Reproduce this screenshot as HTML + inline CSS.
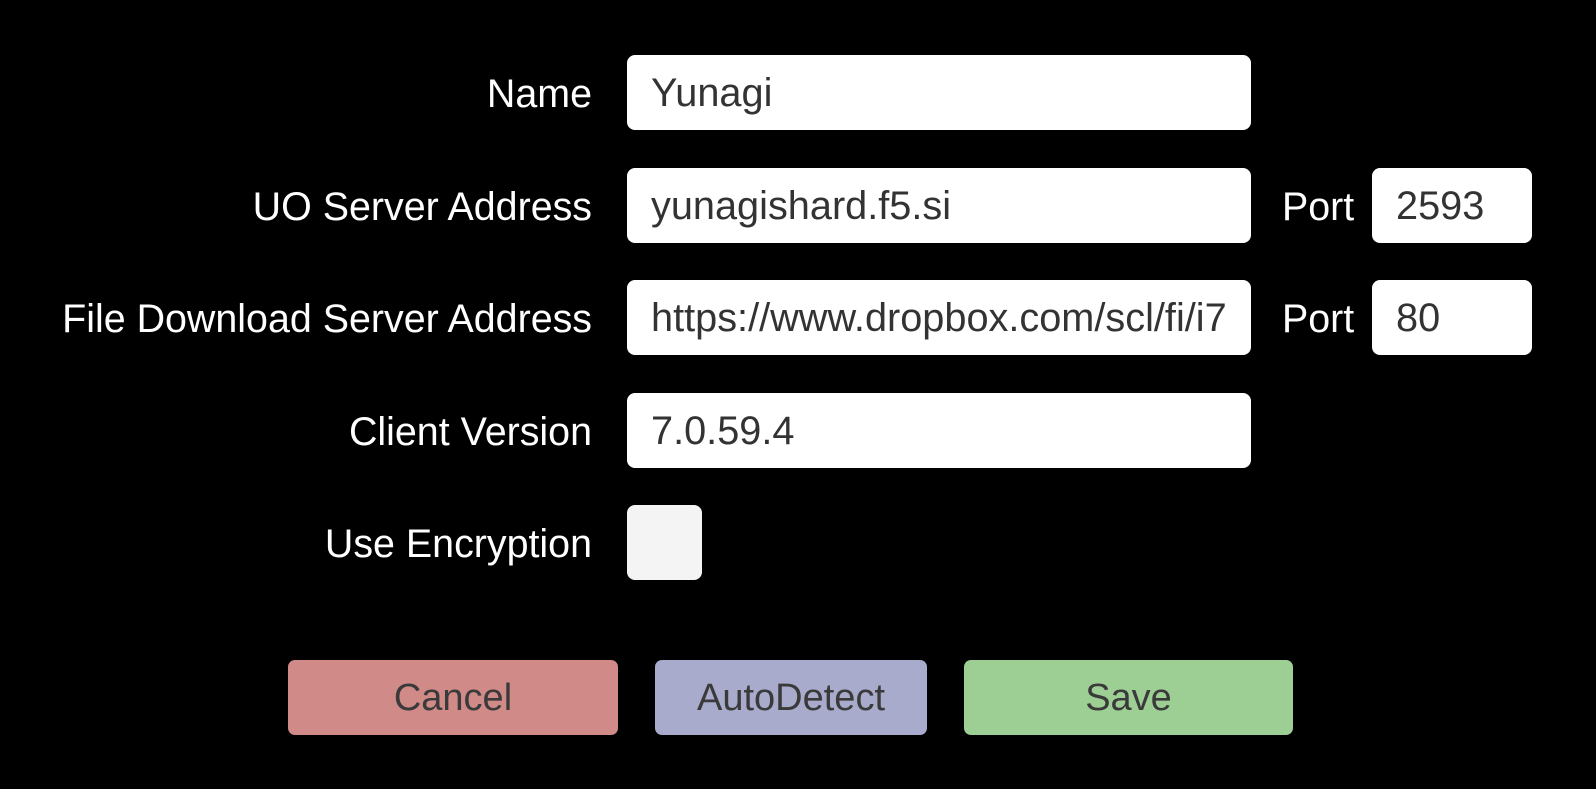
<!DOCTYPE html>
<html><head><style>
body{margin:0;width:1596px;height:789px;background:#000;position:relative;overflow:hidden;font-family:"Liberation Sans",sans-serif;}
.l{position:absolute;right:1004px;color:#fff;font-size:39.4px;line-height:78px;white-space:nowrap}
.b{position:absolute;background:#fff;border-radius:8px;color:#333;font-size:39.7px;box-sizing:border-box;padding-left:24px;white-space:nowrap;overflow:hidden}
.p{position:absolute;left:1282px;color:#fff;font-size:39.4px;line-height:78px}
.btn{position:absolute;top:660px;height:75px;line-height:77px;border-radius:7px;text-align:center;color:#3a3a3a;font-size:38px}
</style></head><body>
<div class="l" style="top:55px">Name</div>
<div class="b" style="left:627px;top:55px;width:624px;height:75px;line-height:77px">Yunagi</div>
<div class="l" style="top:168px">UO Server Address</div>
<div class="b" style="left:627px;top:168px;width:624px;height:75px;line-height:77px">yunagishard.f5.si</div>
<div class="p" style="top:168px">Port</div>
<div class="b" style="left:1372px;top:168px;width:160px;height:75px;line-height:77px">2593</div>
<div class="l" style="top:280px">File Download Server Address</div>
<div class="b" style="left:627px;top:280px;width:624px;height:75px;line-height:77px">https://www.dropbox.com/scl/fi/i7</div>
<div class="p" style="top:280px">Port</div>
<div class="b" style="left:1372px;top:280px;width:160px;height:75px;line-height:77px">80</div>
<div class="l" style="top:393px">Client Version</div>
<div class="b" style="left:627px;top:393px;width:624px;height:75px;line-height:77px">7.0.59.4</div>
<div class="l" style="top:505px">Use Encryption</div>
<div class="b" style="left:627px;top:505px;width:75px;height:75px;background:#f4f4f4"></div>
<div class="btn" style="left:288px;width:330px;background:#d08a88">Cancel</div>
<div class="btn" style="left:655px;width:272px;background:#a8abcc">AutoDetect</div>
<div class="btn" style="left:964px;width:329px;background:#9dcf94">Save</div>
</body></html>
